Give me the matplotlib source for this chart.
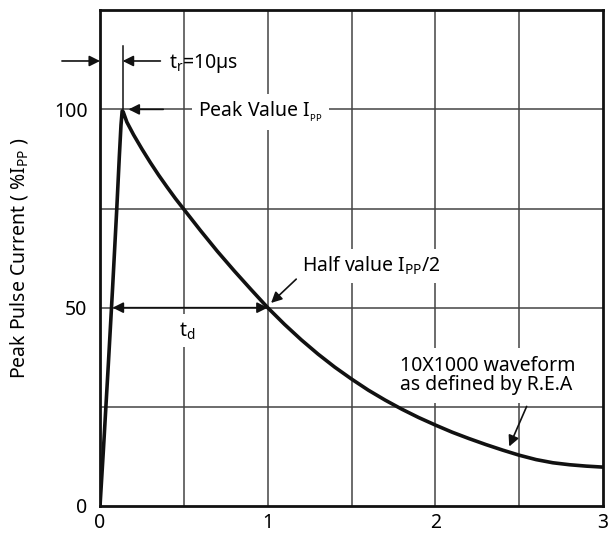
import matplotlib
matplotlib.use("Agg")
import matplotlib.pyplot as plt

# fonte e subscritos no mesmo estilo
plt.rcParams['font.family'] = ['Noto Sans', 'DejaVu Sans']
plt.rcParams['mathtext.fontset'] = 'custom'
plt.rcParams['mathtext.rm'] = 'Noto Sans'
plt.rcParams['font.size'] = 14

# subida do pulso (tempo em ms, corrente em % de Ipp)
t_subida = [0, 0.02, 0.05, 0.075, 0.10, 0.115, 0.125, 0.132]
i_subida = [0, 14, 36, 55, 75, 88, 96, 99.6]

# decaimento do pulso
t_decai = [0.138, 0.16, 0.2, 0.25, 0.3, 0.35, 0.4, 0.45, 0.5, 0.6, 0.7, 0.8, 0.9,
           1.0, 1.1, 1.2, 1.3, 1.4, 1.5, 1.6, 1.7, 1.8, 1.9, 2.0, 2.1, 2.2, 2.3,
           2.4, 2.5, 2.6, 2.7, 2.8, 2.9, 3.0]
i_decai = [99.4, 96.8, 93.6, 90.0, 86.6, 83.4, 80.4, 77.5, 74.8, 69.4, 64.2, 59.3, 54.6,
           50, 45.8, 41.9, 38.3, 35.0, 32.0, 29.2, 26.7, 24.4, 22.3, 20.4, 18.6, 17.0,
           15.5, 14.1, 12.8, 11.7, 10.9, 10.4, 10.05, 9.8]

x_ticks = [0, 1, 2, 3]
y_ticks = [0, 50, 100]
x_grade = [0.5, 1, 1.5, 2, 2.5]
y_grade = [25, 50, 75, 100]

t_pico = 0.135
i_pico = 100
t_meio = 1.0
i_meio = 50

fig = plt.figure(figsize=(6.08, 5.38), dpi=100)
ax = fig.add_axes([0.1645, 0.0595, 0.8275, 0.9215])

# grade
for gx in x_grade:
    ax.axvline(gx, color='#444444', lw=1.1, zorder=1)
for gy in y_grade:
    ax.axhline(gy, color='#444444', lw=1.1, zorder=1)

# curva 10x1000
ax.plot(t_subida + t_decai, i_subida + i_decai, color='#111111', lw=2.6,
        solid_joinstyle='round', zorder=5)

ax.set_xlim(0, 3)
ax.set_ylim(0, 125)
ax.set_xticks(x_ticks)
ax.set_yticks(y_ticks)
ax.tick_params(length=0)
ax.tick_params(axis='y', pad=9)
ax.tick_params(axis='x', pad=5)
for s in ax.spines.values():
    s.set_linewidth(2)
    s.set_color('#111111')

ax.set_ylabel(r'Peak Pulse Current ( %I$_\mathregular{PP}$ )', labelpad=17)

seta = dict(arrowstyle='-|>', color='#111111', lw=1.2, mutation_scale=16,
            shrinkA=0, shrinkB=0)
caixa = dict(boxstyle='square,pad=0.3', fc='white', ec='none')

# tempo de subida tr
ax.plot([t_pico, t_pico], [i_pico, 116], color='#111111', lw=1.1, zorder=4)
ax.annotate('', xy=(0, 112.2), xytext=(-0.227, 112.2), arrowprops=seta,
            annotation_clip=False)
ax.annotate('', xy=(t_pico, 112.2), xytext=(0.36, 112.2), arrowprops=seta)
ax.text(0.41, 110.5, r'$\mathregular{t_r}$=10µs', va='baseline', ha='left')

# valor de pico
ax.annotate('', xy=(0.17, i_pico), xytext=(0.377, i_pico), arrowprops=seta, zorder=6)
ax.text(0.586, 98.2, r'Peak Value I$_\mathregular{_{PP}}$', va='baseline',
        ha='left', bbox=caixa, zorder=3)

# meio valor
ax.annotate('', xy=(1.02, 51.2), xytext=(1.17, 57.2), arrowprops=seta, zorder=6)
ax.text(1.207, 59.0, r'Half value I$_\mathregular{PP}$/2', va='baseline', ha='left',
        bbox=caixa, zorder=3)

# duracao td
seta_dupla = dict(seta, arrowstyle='<|-|>')
ax.annotate('', xy=(0.075, i_meio), xytext=(t_meio, i_meio), arrowprops=seta_dupla,
            zorder=6)
ax.text(0.472, 42.8, r'$\mathregular{t_d}$', va='baseline', ha='left', bbox=caixa,
        zorder=3)

# forma de onda (baseline da ultima linha)
ax.annotate('', xy=(2.44, 15.0), xytext=(2.544, 25.1), arrowprops=seta, zorder=6)
ax.text(1.79, 29.3, '10X1000 waveform\nas defined by R.E.A', va='baseline',
        ha='left', linespacing=0.95,
        bbox=dict(boxstyle='square,pad=0.4', fc='white', ec='none'), zorder=3)

fig.savefig('out.png', dpi=100)
